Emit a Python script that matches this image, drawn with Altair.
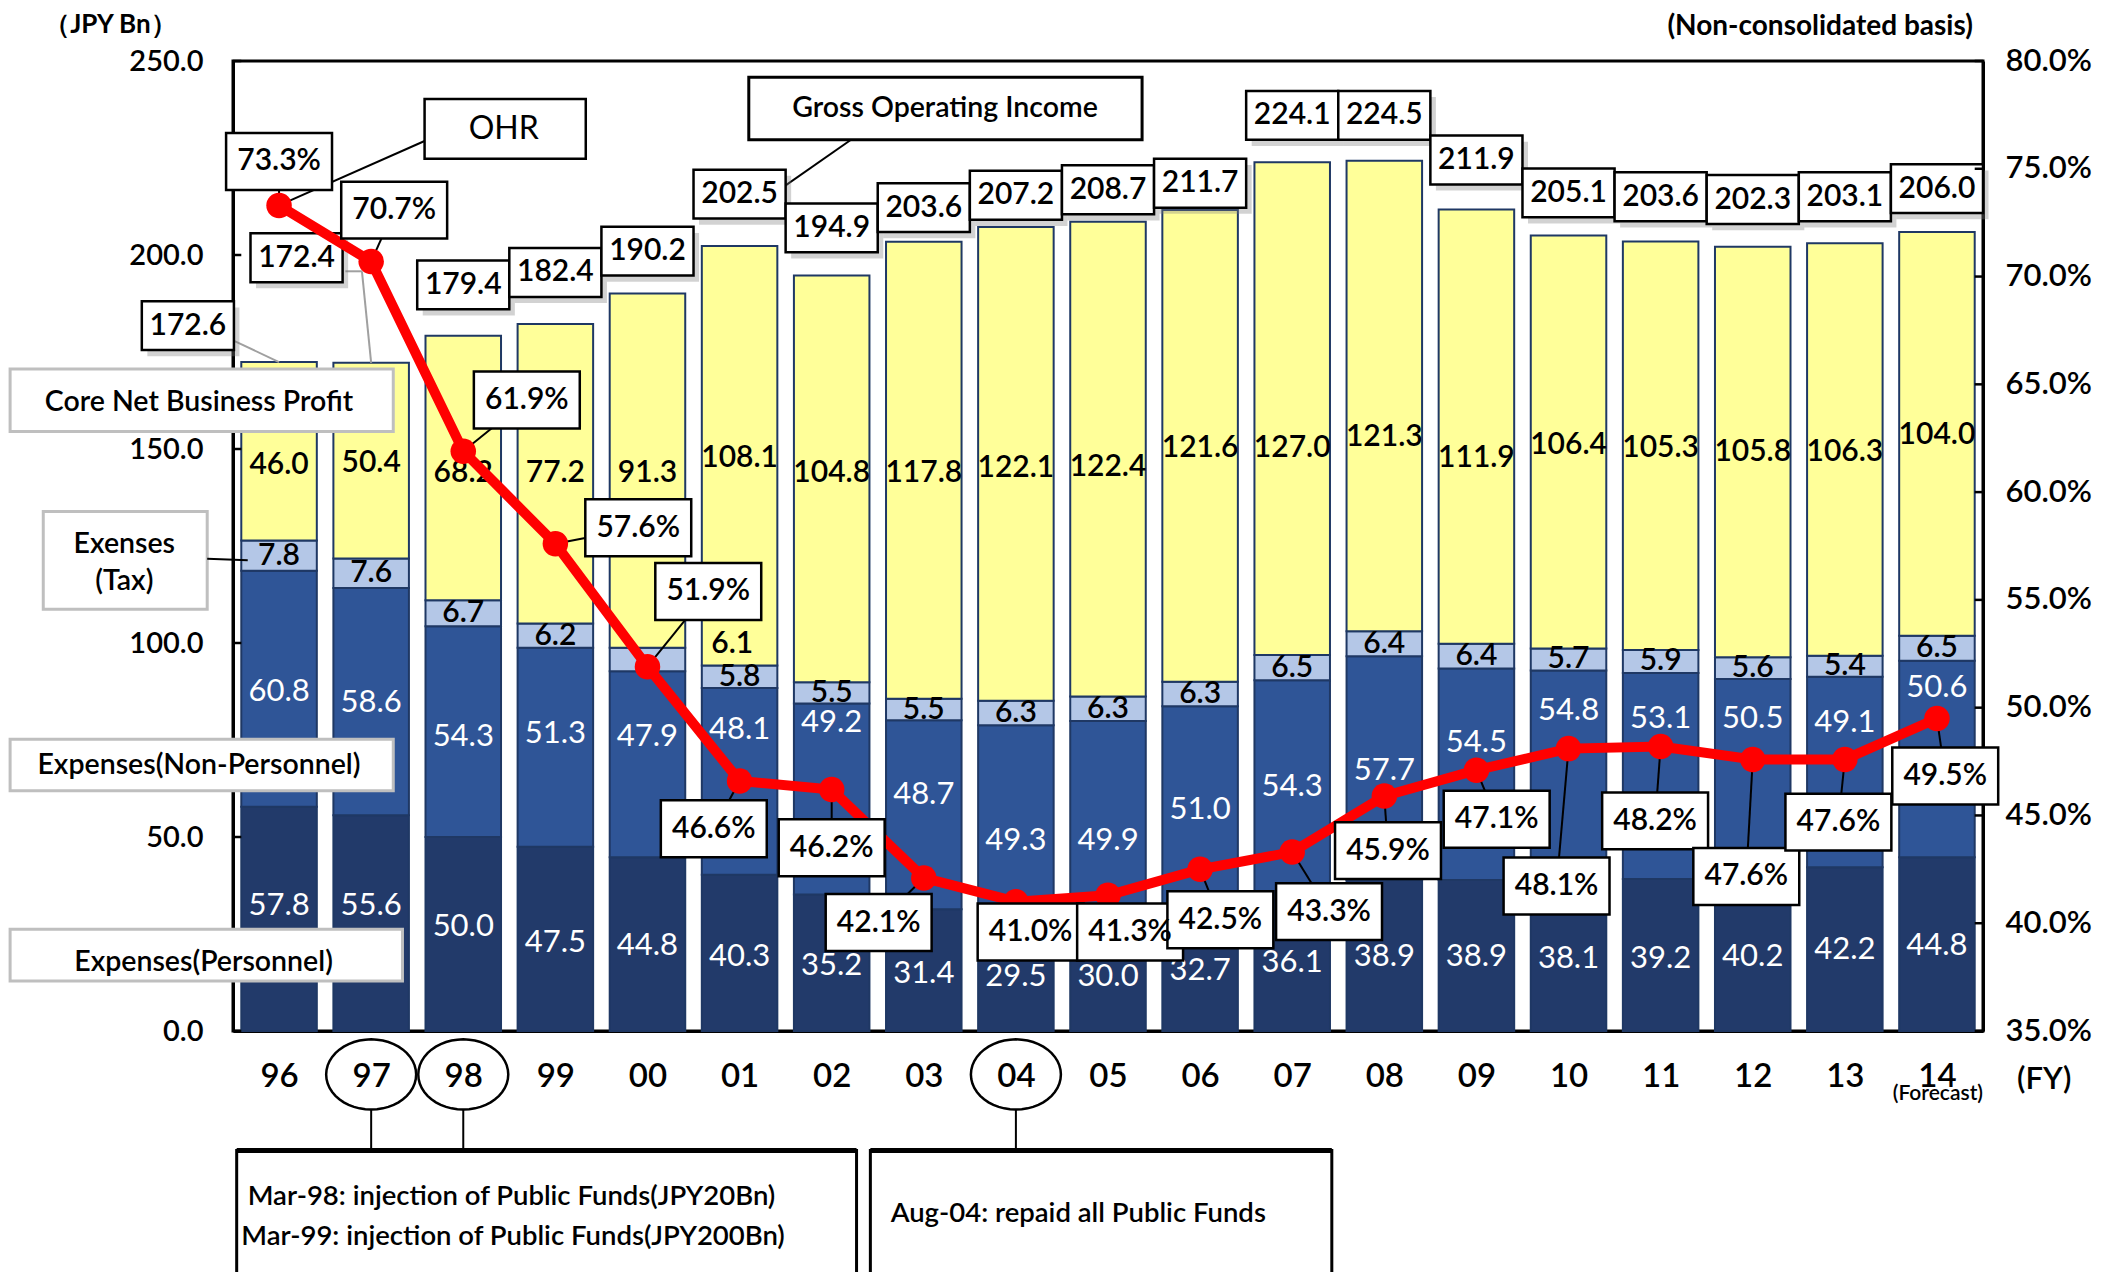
import math
import altair as alt
import pandas as pd

FONT = "Lato"
W = 600  # semibold for black texts

# ---------------- data ----------------
years = ["96", "97", "98", "99", "00", "01", "02", "03", "04", "05",
         "06", "07", "08", "09", "10", "11", "12", "13", "14"]
personnel = [57.8, 55.6, 50.0, 47.5, 44.8, 40.3, 35.2, 31.4, 29.5, 30.0,
             32.7, 36.1, 38.9, 38.9, 38.1, 39.2, 40.2, 42.2, 44.8]
non_personnel = [60.8, 58.6, 54.3, 51.3, 47.9, 48.1, 49.2, 48.7, 49.3, 49.9,
                 51.0, 54.3, 57.7, 54.5, 54.8, 53.1, 50.5, 49.1, 50.6]
tax = [7.8, 7.6, 6.7, 6.2, 6.1, 5.8, 5.5, 5.5, 6.3, 6.3,
       6.3, 6.5, 6.4, 6.4, 5.7, 5.9, 5.6, 5.4, 6.5]
core_profit = [46.0, 50.4, 68.2, 77.2, 91.3, 108.1, 104.8, 117.8, 122.1, 122.4,
               121.6, 127.0, 121.3, 111.9, 106.4, 105.3, 105.8, 106.3, 104.0]
gross_income = [172.6, 172.4, 179.4, 182.4, 190.2, 202.5, 194.9, 203.6, 207.2, 208.7,
                211.7, 224.1, 224.5, 211.9, 205.1, 203.6, 202.3, 203.1, 206.0]
ohr = [73.3, 70.7, 61.9, 57.6, 51.9, 46.6, 46.2, 42.1, 41.0, 41.3,
       42.5, 43.3, 45.9, 47.1, 48.1, 48.2, 47.6, 47.6, 49.5]

# ---------------- label placement (annotation positions) ----------------
pers_label_y = [32.2, 32.2, 26.9, 22.7, 22.0, 19.2, 16.8, 14.7, 14.0, 14.0,
                15.4, 17.5, 19.2, 19.2, 18.5, 18.5, 19.2, 21.0, 22.0]
np_label_y = [87.4, 84.6, 75.9, 76.6, 75.9, 77.6, 79.4, 60.8, 49.0, 49.0,
              57.0, 62.9, 67.1, 74.1, 82.5, 80.4, 80.4, 79.4, 88.5]
cp_label_y = [145.8, 146.5, 143.7, 143.7, 143.7, 147.6, 143.7, 143.7, 145.0, 145.3,
              150.3, 150.3, 153.0, 147.6, 151.0, 150.3, 149.3, 149.3, 153.5]
gi_label_dx = [-0.99, -0.81, 0, 0, 0, 0, 0, 0, 0, 0, 0, 0, 0, 0, 0, 0, 0, 0, 0]
gi_label_y = [181.8, 199.3, 192.3, 195.5, 201.0, 215.7, 207.0, 212.2, 215.4, 216.8,
              218.5, 236.0, 236.0, 224.5, 216.0, 215.0, 214.3, 215.0, 217.1]
ohr_label_dx = [0, 0.25, 0.69, 0.90, 0.66, -0.28, 0, -0.49, 0.16, 0.24,
                0.22, 0.40, 0.04, 0.22, -0.13, -0.06, -0.07, -0.07, 0.09]
ohr_label_y = [75.34, 73.08, 64.27, 58.35, 55.39, 44.38, 43.50, 40.03, 39.59, 39.59,
               40.16, 40.54, 43.37, 44.82, 41.73, 44.75, 42.17, 44.69, 46.83]

left_ticks = [0, 50, 100, 150, 200, 250]
right_ticks = [35, 40, 45, 50, 55, 60, 65, 70, 75, 80]

n = len(years)
idx = list(range(n))

# ---------------- scales & axes ----------------
label_expr = "[" + ",".join("'%s'" % y for y in years) + "][datum.value]"
xscale = alt.Scale(domain=[-0.5, n - 0.5], nice=False, zero=False)
lscale = alt.Scale(domain=[0, 250], nice=False, zero=False)
rscale = alt.Scale(domain=[35, 80], nice=False, zero=False)

xaxis = alt.Axis(values=idx, labelExpr=label_expr, title=None, grid=False, ticks=False,
                 tickSize=0, domainColor="black", domainWidth=3, labelFont=FONT,
                 labelFontSize=33, labelFontWeight=W, labelColor="black", labelPadding=45,
                 labelBaseline="middle", labelAngle=0, labelFlush=False, labelOverlap=False)
laxis = alt.Axis(values=left_ticks, format=".1f", title=None, grid=False,
                 ticks=False, domainColor="black", domainWidth=3, labelFont=FONT,
                 labelFontSize=29, labelFontWeight=W, labelColor="black", labelPadding=30,
                 labelFlush=False, labelOverlap=False)
raxis = alt.Axis(orient="right", values=right_ticks,
                 labelExpr="format(datum.value, '.1f') + '%'", title=None, grid=False,
                 ticks=False, domainColor="black", domainWidth=3, labelFont=FONT,
                 labelFontSize=31, labelFontWeight=W, labelColor="black", labelPadding=22,
                 labelFlush=False, labelOverlap=False)


def X(f):
    return alt.X(f"{f}:Q", scale=xscale, axis=xaxis)


def YL(f):
    return alt.Y(f"{f}:Q", scale=lscale, axis=laxis)


def YR(f):
    return alt.Y(f"{f}:Q", scale=rscale, axis=raxis)


# ---------------- stacked bars ----------------
seg_names = ["Personnel", "Non-Personnel", "Tax", "Core"]
seg_colors = ["#223A6A", "#2F5597", "#B4C7E7", "#FFFF99"]
rows = []
for i in idx:
    base = 0.0
    for name, vals in zip(seg_names, [personnel, non_personnel, tax, core_profit]):
        rows.append(dict(i=i, seg=name, xl=i - 0.41, xr=i + 0.41, y0=base, y1=base + vals[i]))
        base += vals[i]
seg_df = pd.DataFrame(rows)

bars = alt.Chart(seg_df).mark_rect(stroke="#1F3864", strokeWidth=2).encode(
    x=X("xl"), x2=alt.X2("xr"), y=YL("y0"), y2=alt.Y2("y1"),
    fill=alt.Fill("seg:N", scale=alt.Scale(domain=seg_names, range=seg_colors), legend=None),
)

# inner axis ticks
lt_df = pd.DataFrame(dict(x=[-0.5] * len(left_ticks), x2=[-0.41] * len(left_ticks), y=left_ticks))
rt_df = pd.DataFrame(dict(x=[n - 0.59] * len(right_ticks), x2=[n - 0.5] * len(right_ticks), y=right_ticks))
lticks = alt.Chart(lt_df).mark_rule(color="black", strokeWidth=2.5).encode(
    x=X("x"), x2=alt.X2("x2"), y=YL("y"))
rticks = alt.Chart(rt_df).mark_rule(color="black", strokeWidth=2.5).encode(
    x=X("x"), x2=alt.X2("x2"), y=YR("y"))

# ---------------- bar value labels ----------------
white_rows, black_rows = [], []
for i in idx:
    white_rows.append(dict(x=i, y=pers_label_y[i], t=f"{personnel[i]:.1f}"))
    white_rows.append(dict(x=i, y=np_label_y[i], t=f"{non_personnel[i]:.1f}"))
    ty = personnel[i] + non_personnel[i] + tax[i] / 2
    tx = i
    if years[i] == "00":
        tx, ty = i + 0.92, 99.7
    black_rows.append(dict(x=tx, y=ty, t=f"{tax[i]:.1f}"))
    black_rows.append(dict(x=i, y=cp_label_y[i], t=f"{core_profit[i]:.1f}"))

white_labels = alt.Chart(pd.DataFrame(white_rows)).mark_text(
    font=FONT, fontSize=31, color="white", align="center", baseline="middle").encode(
    x=X("x"), y=YL("y"), text="t:N")
black_labels = alt.Chart(pd.DataFrame(black_rows)).mark_text(
    font=FONT, fontSize=30, fontWeight=W, color="black", align="center", baseline="middle").encode(
    x=X("x"), y=YL("y"), text="t:N")

# ---------------- gross income boxed labels ----------------
gi_df = pd.DataFrame(dict(
    cx=[i + gi_label_dx[i] for i in idx], cy=gi_label_y, t=[f"{v:.1f}" for v in gross_income]))
gi_df["x1"] = gi_df.cx - 0.5
gi_df["x2"] = gi_df.cx + 0.5
gi_df["y1"] = gi_df.cy - 6.3
gi_df["y2"] = gi_df.cy + 6.3
gi_df["sx1"] = gi_df.x1 + 0.06
gi_df["sx2"] = gi_df.x2 + 0.06
gi_df["sy1"] = gi_df.y1 - 1.6
gi_df["sy2"] = gi_df.y2 - 1.6

gi_shadow = alt.Chart(gi_df).mark_rect(fill="#7F7F7F", opacity=0.35).encode(
    x=X("sx1"), x2=alt.X2("sx2"), y=YL("sy1"), y2=alt.Y2("sy2"))
gi_box = alt.Chart(gi_df).mark_rect(fill="white", stroke="black", strokeWidth=2.5).encode(
    x=X("x1"), x2=alt.X2("x2"), y=YL("y1"), y2=alt.Y2("y2"))
gi_text = alt.Chart(gi_df).mark_text(font=FONT, fontSize=30, fontWeight=W, color="black",
                                     baseline="middle").encode(
    x=X("cx"), y=YL("cy"), text="t:N")

# leader lines (left scale): 96, 97 total labels and Gross Operating Income callout
lead_l_df = pd.DataFrame(dict(
    x=[-0.5, 0.72, 0.9, 5.43],
    y=[178.0, 195.8, 195.8, 216.8],
    x2=[0.0, 0.9, 1.0, 6.21],
    y2=[172.4, 195.8, 172.2, 229.7],
    c=["#A0A0A0", "#A0A0A0", "#A0A0A0", "black"],
))
lead_l = alt.Chart(lead_l_df).mark_rule(strokeWidth=2).encode(
    x=X("x"), y=YL("y"), x2=alt.X2("x2"), y2=alt.Y2("y2"), color=alt.Color("c:N", scale=None))

# ---------------- callout / legend boxes (left scale) ----------------
box_df = pd.DataFrame(dict(
    x1=[5.10, -2.92, -2.56, -2.92, -2.92, -0.46, 6.42],
    x2=[9.37, 1.24, -0.78, 1.24, 1.34, 6.27, 11.43],
    y1=[229.7, 154.5, 108.7, 61.9, 12.9, -75.0, -75.0],
    y2=[245.8, 170.6, 133.9, 75.2, 26.2, -30.8, -30.8],
    c=["black", "#BFBFBF", "#BFBFBF", "#BFBFBF", "#BFBFBF", "black", "black"],
))
boxes = alt.Chart(box_df).mark_rect(fill="white", strokeWidth=3).encode(
    x=X("x1"), x2=alt.X2("x2"), y=YL("y1"), y2=alt.Y2("y2"), stroke=alt.Stroke("c:N", scale=None))

tax_lead = alt.Chart(pd.DataFrame(dict(x=[-0.78], y=[121.7], x2=[-0.34], y2=[121.3]))).mark_rule(
    strokeWidth=2, color="black").encode(x=X("x"), y=YL("y"), x2=alt.X2("x2"), y2=alt.Y2("y2"))

# bottom: circled fiscal years with connectors to note boxes
ell = [(math.cos(2 * math.pi * k / 48), 0.78 * math.sin(2 * math.pi * k / 48)) for k in range(48)]
ell_path = "M" + "L".join(f"{a:.4f},{b:.4f}" for a, b in ell) + "Z"
circ_df = pd.DataFrame(dict(x=[1, 2, 8], y=[-11.2, -11.2, -11.2], y2=[-20.3, -20.3, -20.3],
                            y3=[-30.8, -30.8, -30.8]))
circles = alt.Chart(circ_df).mark_point(shape=ell_path, size=8100, filled=False, stroke="black",
                                        strokeWidth=2.5, opacity=1).encode(x=X("x"), y=YL("y"))
conn = alt.Chart(circ_df).mark_rule(strokeWidth=2, color="black").encode(
    x=X("x"), y=YL("y2"), y2=alt.Y2("y3"))
top_edge = alt.Chart(pd.DataFrame(dict(x=[-0.46, 6.42], x2=[6.27, 11.43], y=[-30.8, -30.8]))).mark_rule(
    strokeWidth=5, color="black").encode(x=X("x"), x2=alt.X2("x2"), y=YL("y"))

# ---------------- annotation texts (left scale) ----------------
txt_c = pd.DataFrame(dict(
    x=[7.23, -0.87, -1.68, -1.68, -0.87, -0.82],
    y=[237.8, 162.2, 125.5, 116.1, 68.5, 17.8],
    t=["Gross Operating Income", "Core Net Business Profit", "Exenses", "(Tax)",
       "Expenses(Non-Personnel)", "Expenses(Personnel)"],
))
ann_c = alt.Chart(txt_c).mark_text(font=FONT, fontSize=28.5, fontWeight=W, color="black",
                                   baseline="middle", align="center").encode(
    x=X("x"), y=YL("y"), text="t:N")
txt_l = pd.DataFrame(dict(
    x=[-0.34, -0.41, 6.64],
    y=[-42.7, -53.1, -47.2],
    t=["Mar-98: injection of Public Funds(JPY20Bn)", "Mar-99: injection of Public Funds(JPY200Bn)",
       "Aug-04: repaid all Public Funds"],
))
ann_l = alt.Chart(txt_l).mark_text(font=FONT, fontSize=27.5, fontWeight=W, color="black",
                                   baseline="middle", align="left").encode(
    x=X("x"), y=YL("y"), text="t:N")
ann_fy = alt.Chart(pd.DataFrame(dict(x=[18.87], y=[-12.6], t=["(FY)"]))).mark_text(
    font=FONT, fontSize=31, fontWeight=W, color="black", baseline="middle", align="left").encode(
    x=X("x"), y=YL("y"), text="t:N")
ann_fc = alt.Chart(pd.DataFrame(dict(x=[18.01], y=[-16.3], t=["(Forecast)"]))).mark_text(
    font=FONT, fontSize=21, fontWeight=W, color="black", baseline="middle", align="center").encode(
    x=X("x"), y=YL("y"), text="t:N")
ann_unit = alt.Chart(pd.DataFrame(dict(x=[-2.55], y=[259.4], t=["（JPY Bn）"]))).mark_text(
    font=FONT, fontSize=26, fontWeight="bold", color="black", baseline="middle", align="left").encode(
    x=X("x"), y=YL("y"), text="t:N")
ann_basis = alt.Chart(pd.DataFrame(dict(x=[18.39], y=[258.7], t=["(Non-consolidated basis)"]))).mark_text(
    font=FONT, fontSize=28, fontWeight="bold", color="black", baseline="middle", align="right").encode(
    x=X("x"), y=YL("y"), text="t:N")

left = alt.layer(bars, lticks, white_labels, black_labels, lead_l, gi_shadow, gi_box, gi_text,
                 boxes, tax_lead, circles, conn, top_edge, ann_c, ann_l, ann_fy, ann_fc,
                 ann_unit, ann_basis)

# ---------------- OHR (right scale) ----------------
ohr_df = pd.DataFrame(dict(i=idx, ohr=ohr))
ohr_lab = pd.DataFrame(dict(px=idx, py=ohr, cx=[i + ohr_label_dx[i] for i in idx], cy=ohr_label_y,
                            t=[f"{v:.1f}%" for v in ohr]))
ohr_lab["x1"] = ohr_lab.cx - 0.575
ohr_lab["x2"] = ohr_lab.cx + 0.575
ohr_lab["y1"] = ohr_lab.cy - 1.32
ohr_lab["y2"] = ohr_lab.cy + 1.32

ohr_lead = alt.Chart(ohr_lab).mark_rule(strokeWidth=2, color="black").encode(
    x=X("px"), y=YR("py"), x2=alt.X2("cx"), y2=alt.Y2("cy"))
ohr_callout_lead = alt.Chart(pd.DataFrame(dict(x=[0], y=[73.3], x2=[1.58], y2=[76.29]))).mark_rule(
    strokeWidth=2, color="black").encode(x=X("x"), y=YR("y"), x2=alt.X2("x2"), y2=alt.Y2("y2"))
ohr_line = alt.Chart(ohr_df).mark_line(color="#FF0000", strokeWidth=10).encode(x=X("i"), y=YR("ohr"))
ohr_pts = alt.Chart(ohr_df).mark_point(filled=True, color="#FF0000", size=650, opacity=1).encode(
    x=X("i"), y=YR("ohr"))
ohr_box = alt.Chart(ohr_lab).mark_rect(fill="white", stroke="black", strokeWidth=2.5).encode(
    x=X("x1"), x2=alt.X2("x2"), y=YR("y1"), y2=alt.Y2("y2"))
ohr_text = alt.Chart(ohr_lab).mark_text(font=FONT, fontSize=30, fontWeight=W, color="black",
                                        baseline="middle").encode(x=X("cx"), y=YR("cy"), text="t:N")
ohr_cbox = alt.Chart(pd.DataFrame(dict(x1=[1.58], x2=[3.33], y1=[75.47], y2=[78.24]))).mark_rect(
    fill="white", stroke="black", strokeWidth=2.5).encode(
    x=X("x1"), x2=alt.X2("x2"), y=YR("y1"), y2=alt.Y2("y2"))
ohr_ctext = alt.Chart(pd.DataFrame(dict(x=[2.44], y=[76.85], t=["OHR"]))).mark_text(
    font=FONT, fontSize=32, color="black", baseline="middle").encode(x=X("x"), y=YR("y"), text="t:N")

right = alt.layer(rticks, ohr_lead, ohr_callout_lead, ohr_line, ohr_pts, ohr_box, ohr_text,
                  ohr_cbox, ohr_ctext)

chart = alt.layer(left, right).resolve_scale(y="independent").properties(
    width=1750, height=970,
    autosize=alt.AutoSizeParams(type="none"),
    padding={"left": 233, "top": 61, "right": 144, "bottom": 241},
    background="white",
).configure_view(stroke="black", strokeWidth=3)

chart.save("out.html", embed_options={"renderer": "svg", "actions": False})
